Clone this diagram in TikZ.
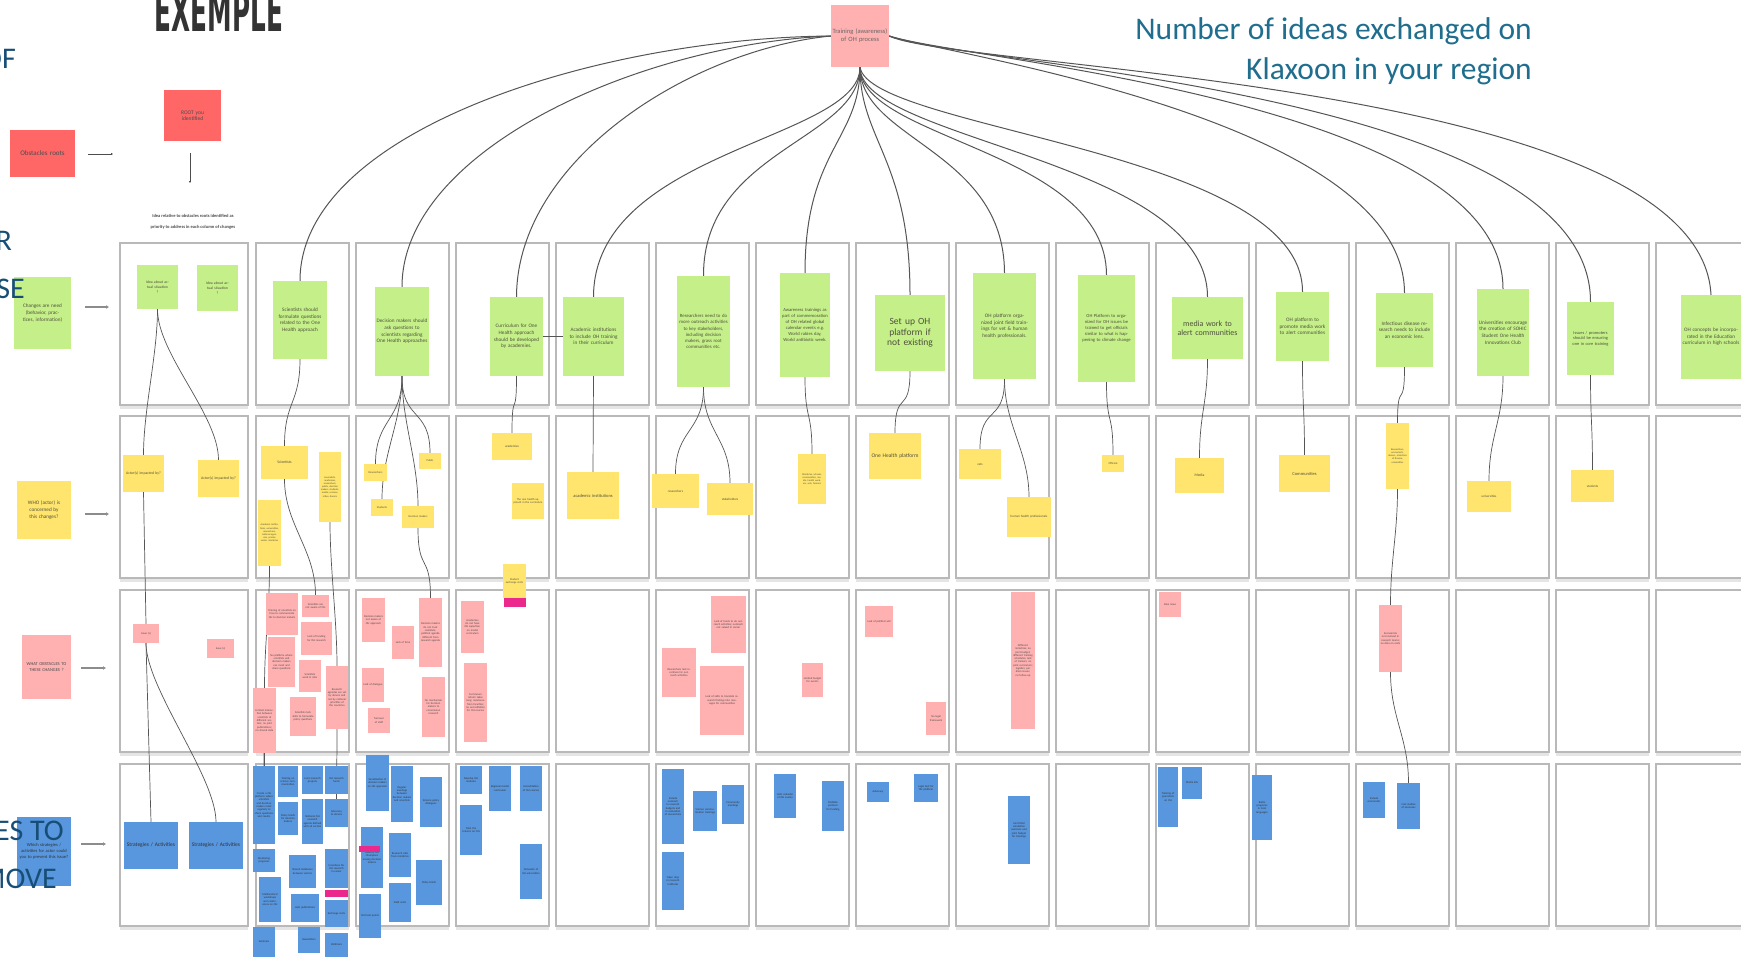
\documentclass[tikz,border=0pt]{standalone}
\usepackage{fontspec}
\setmainfont{Carlito}
\newfontfamily\headfont{DejaVu Sans}
\usetikzlibrary{arrows.meta}
\definecolor{gnote}{RGB}{196,239,137}
\definecolor{ynote}{RGB}{255,229,110}
\definecolor{pnote}{RGB}{255,176,176}
\definecolor{rnote}{RGB}{255,102,102}
\definecolor{bnote}{RGB}{88,150,222}
\definecolor{mtag}{RGB}{235,40,140}
\definecolor{hdblue}{RGB}{31,110,142}
\definecolor{navyt}{RGB}{24,78,118}
\definecolor{notetext}{RGB}{80,80,60}
\definecolor{framec}{RGB}{185,185,185}
\definecolor{linec}{RGB}{85,85,85}
\pgfdeclarelayer{frm}
\pgfdeclarelayer{bg}
\pgfsetlayers{frm,bg,main}
\newcommand{\stk}[7]{%
  \pgfmathsetmacro\stkx{(#3+#5)/2}%
  \pgfmathsetmacro\stky{(#4+#6)/2}%
  \pgfmathsetmacro\stkw{#5-#3}%
  \pgfmathsetmacro\stkh{#6-#4}%
  \pgfmathsetmacro\stkt{max(#5-#3-3,2)}%
  \node[#2, minimum width=\stkw pt, minimum height=\stkh pt, text width=\stkt pt] (#1) at (\stkx,\stky) {#7};%
}
\newcommand{\cc}[2]{\draw[cn] (#1.south) .. controls +(0,45) and +(0,-45) .. (#2.north);}
\tikzset{
 stk/.style={inner sep=1pt, align=center, text=notetext, font=\fontsize{5.2}{6.6}\selectfont},
 gn/.style={stk, fill=gnote},
 yn/.style={stk, fill=ynote},
 pn/.style={stk, fill=pnote, text=black!70, font=\fontsize{2.8}{3.3}\selectfont},
 bn/.style={stk, fill=bnote, text=black!80, font=\fontsize{2.8}{3.3}\selectfont},
 rn/.style={stk, fill=rnote, text=black!70},
 mt/.style={stk, fill=mtag},
 cn/.style={draw=linec, line width=0.7pt},
 tcn/.style={draw=linec, line width=1pt},
 frmline/.style={draw=framec, line width=1.2pt},
 larrow/.style={draw=black!45, line width=1.6pt, -{Latex[length=3pt,width=4pt]}},
 sarrow/.style={draw=black!70, line width=0.6pt, -{Latex[length=2pt,width=2.5pt]}},
 lefttxt/.style={text=navyt, font=\fontsize{30}{35}\selectfont, inner sep=0pt},
 toptxt/.style={text=hdblue, font=\fontsize{31.5}{35}\selectfont, inner sep=0pt},
}
\begin{document}
\begin{tikzpicture}[x=1pt,y=-1pt]
\useasboundingbox (0,0) rectangle (1741,962);
% ---------- frames
\begin{pgfonlayer}{frm}
\fill[white] (0,0) rectangle (1741,962);
\foreach \r in {243,416,590,764}{
 \pgfmathsetmacro\rb{\r+162}
 \fill[black!10] (120,\rb) rectangle (248,\rb+4);
 \draw[frmline] (120,\r) rectangle (248,\rb);
 \foreach \k in {1,...,15}{
  \pgfmathsetmacro\xa{256+(\k-1)*100}
  \pgfmathsetmacro\xb{\xa+93}
  \fill[black!10] (\xa,\rb) rectangle (\xb,\rb+4);
  \draw[frmline] (\xa,\r) rectangle (\xb,\rb);
 }
}
\end{pgfonlayer}
% ---------- headings
\node[anchor=south, inner sep=0pt, text=black!80] (ex) at (219,32) {\resizebox{128pt}{40pt}{\headfont\bfseries EXEMPLE}};
\node[toptxt, anchor=base east] (kt1) at (1532,39) {Number of ideas exchanged on};
\node[toptxt, anchor=base east] (kt2) at (1532,79) {Klaxoon in your region};
% ---------- legend
\stk{obst}{rn, font=\fontsize{7}{8}\selectfont}{10}{130}{75}{177}{Obstacles roots}
\stk{root}{rn, font=\fontsize{5.5}{6.5}\selectfont}{164}{90}{221}{141}{ROOT you\\identified}
\node[font=\fontsize{4.5}{11}\selectfont\bfseries, text=black!70, align=center] (hint) at (193,222) {Idea relative to obstacles roots identified as\\priority to address in each column of changes};
\coordinate (oa1) at (88,154); \coordinate (oa2) at (113,154);
\draw[sarrow] (oa1) -- (oa2);
\coordinate (ra1) at (190,153); \coordinate (ra2) at (190,183);
\draw[sarrow] (ra1) -- (ra2);
\stk{lg}{gn}{14}{277}{71}{349}{Changes are need (behavior, practices, information)}
\stk{ly}{yn}{17}{481}{71}{539}{WHO (actor) is concerned by this changes?}
\stk{lp}{pn, font=\fontsize{4.5}{6}\selectfont}{22}{635}{71}{699}{WHAT OBSTACLES TO THESE CHANGES ?}
\stk{lb}{bn, font=\fontsize{4.5}{6}\selectfont}{17}{817}{71}{886}{Which strategies / activities for actor could you to prevent this issue?}
\coordinate (la1) at (85,307); \coordinate (la2) at (109,307); \draw[larrow] (la1) -- (la2);
\coordinate (lb1) at (85,514); \coordinate (lb2) at (109,514); \draw[larrow] (lb1) -- (lb2);
\coordinate (lc1) at (81,668); \coordinate (lc2) at (106,668); \draw[larrow] (lc1) -- (lc2);
\coordinate (ld1) at (81,844); \coordinate (ld2) at (106,844); \draw[larrow] (ld1) -- (ld2);
% ---------- top node
\stk{top}{stk, fill=pnote, text=black!60, font=\fontsize{6.5}{8}\selectfont}{831}{5}{889}{67}{Training (awareness) of OH process}
% ---------- column 0
\stk{g0a}{gn, font=\fontsize{3.8}{4.8}\selectfont}{137}{265}{178}{309}{Idea about actual situation\\?}
\stk{g0b}{gn, font=\fontsize{3.8}{4.8}\selectfont}{197}{265}{238}{311}{Idea about actual situation\\?}
\stk{y0a}{yn, font=\fontsize{3.8}{4.8}\selectfont}{123}{455}{164}{492}{Actor(s) impacted by?}
\stk{y0b}{yn, font=\fontsize{3.8}{4.8}\selectfont}{198}{460}{239}{497}{Actor(s) impacted by?}
\stk{p0a}{pn}{133}{624}{159}{643}{Issue (s)}
\stk{p0b}{pn}{207}{639}{234}{658}{Issue (s)}
\stk{b0a}{bn, font=\fontsize{5.5}{6.5}\selectfont}{124}{822}{178}{869}{Strategies / Activities}
\stk{b0b}{bn, font=\fontsize{5.5}{6.5}\selectfont}{189}{822}{243}{869}{Strategies / Activities}
% ---------- column 1
\stk{g1}{gn}{273}{281}{327}{359}{Scientists should formulate questions related to the One Health approach}
\stk{y1a}{yn, font=\fontsize{3.8}{4.4}\selectfont}{261}{446}{308}{479}{Scientists}
\stk{y1b}{yn, font=\fontsize{2.5}{3.1}\selectfont}{319}{452}{341}{522}{Journalists, academies, researchers, public, decision makers, students, media, communities, donors}
\stk{y1c}{yn, font=\fontsize{2.5}{3.1}\selectfont}{258}{500}{281}{566}{Academic institutions, universities, researchers, national agencies, private sector, ministries}
\stk{p1a}{pn}{266}{593}{298}{635}{Training of scientists on how to communicate OH to decision makers}
\stk{p1b}{pn}{302}{595}{329}{617}{Scientists are not aware of OH}
\stk{p1c}{pn}{268}{637}{295}{687}{No platform where scientists and decision makers can meet and share questions}
\stk{p1d}{pn}{301}{622}{332}{655}{Lack of funding for OH research}
\stk{p1e}{pn}{299}{660}{321}{692}{Scientists work in silos}
\stk{p1f}{pn}{326}{666}{348}{729}{Research agendas are set by donors and not by national priorities of the countries}
\stk{p1g}{pn}{253}{688}{276}{753}{Limited interaction between scientists of different sectors; no joint publications; no shared data}
\stk{p1h}{pn}{290}{697}{316}{736}{Scientists lack skills to formulate policy questions}
\stk{b1a}{bn}{253}{766}{275}{844}{Create a OH platform where scientists and decision makers meet regularly to share questions and results}
\stk{b1b}{bn}{278}{766}{298}{797}{Training on science communication}
\stk{b1c}{bn}{302}{766}{323}{794}{Joint research projects}
\stk{b1d}{bn}{325}{766}{348}{794}{OH research funds}
\stk{b1e}{bn}{278}{802}{298}{835}{Policy briefs for decision makers}
\stk{b1f}{bn}{302}{799}{323}{844}{National OH research agenda defined with all sectors}
\stk{b1g}{bn}{325}{799}{348}{827}{Advocacy to donors}
\stk{b1h}{bn}{253}{849}{275}{872}{Mentoring programs}
\stk{b1i}{bn}{259}{877}{281}{922}{Multisectoral workshops and conferences on OH}
\stk{b1j}{bn}{289}{855}{316}{888}{Shared databases between sectors}
\stk{b1k}{bn}{291}{894}{319}{922}{Joint publications}
\stk{b1l}{bn}{325}{849}{348}{888}{Incentives for OH research in career}
\stk{m1}{mt}{325}{890}{348}{897}{}
\stk{b1m}{bn}{325}{900}{348}{927}{Exchange visits}
\stk{b1n}{bn}{253}{927}{275}{957}{Seminars}
\stk{b1o}{bn}{298}{927}{320}{953}{Newsletters}
\stk{b1p}{bn}{325}{933}{348}{957}{Webinars}
% ---------- column 2
\stk{g2}{gn}{375}{287}{429}{376}{Decision makers should ask questions to scientists regarding One Health approaches}
\stk{y2a}{yn, font=\fontsize{2.8}{3.2}\selectfont}{364}{464}{387}{481}{Researchers}
\stk{y2b}{yn, font=\fontsize{2.8}{3.2}\selectfont}{371}{499}{393}{516}{Students}
\stk{y2c}{yn, font=\fontsize{2.8}{3.2}\selectfont}{419}{453}{441}{469}{Public}
\stk{y2d}{yn, font=\fontsize{2.8}{3.2}\selectfont}{402}{506}{434}{528}{Decision makers}
\stk{p2a}{pn}{362}{598}{385}{642}{Decision makers not aware of OH approach}
\stk{p2b}{pn}{392}{626}{414}{659}{Lack of time}
\stk{p2c}{pn}{419}{598}{442}{667}{Decision makers do not trust scientists; political agenda different from research agenda}
\stk{p2d}{pn}{362}{668}{384}{702}{Lack of dialogue}
\stk{p2e}{pn}{368}{708}{390}{733}{Turnover of staff}
\stk{p2f}{pn}{422}{677}{445}{737}{No mechanism for decision makers to commission research}
\stk{b2a}{bn}{366}{755}{389}{811}{Sensitization of decision makers on OH approach}
\stk{b2b}{bn}{391}{766}{413}{822}{Regular meetings between decision makers and scientists}
\stk{b2c}{bn}{420}{777}{442}{827}{Science policy dialogues}
\stk{b2d}{bn}{361}{827}{383}{888}{Identify OH champions among decision makers}
\stk{m2}{mt}{359}{846}{380}{852}{}
\stk{b2e}{bn}{389}{833}{411}{877}{Research calls from ministries}
\stk{b2f}{bn}{416}{860}{442}{905}{Policy briefs}
\stk{b2g}{bn}{359}{894}{381}{938}{OH focal points}
\stk{b2h}{bn}{389}{883}{411}{922}{Field visits}
% ---------- column 3
\stk{g3}{gn}{490}{297}{543}{376}{Curriculum for One Health approach should be developed by academies.}
\stk{y3a}{yn, font=\fontsize{3.2}{3.8}\selectfont}{492}{433}{532}{460}{academies}
\stk{y3b}{yn, font=\fontsize{2.8}{3.2}\selectfont}{512}{483}{544}{519}{The one health approach in the curriculum}
\stk{y3c}{yn, font=\fontsize{2.8}{3.2}\selectfont}{503}{564}{526}{598}{Student exchange visits}
\stk{m3}{mt}{504}{598}{526}{607}{}
\stk{p3a}{pn}{461}{601}{484}{653}{Academies do not have OH expertise; no model curriculum}
\stk{p3b}{pn}{464}{663}{487}{742}{Curriculum reform takes long; resistance from faculties; no accreditation for OH courses}
\stk{b3a}{bn}{460}{766}{482}{794}{Develop OH modules}
\stk{b3b}{bn}{460}{805}{482}{855}{Train the trainers on OH}
\stk{b3c}{bn}{489}{766}{511}{811}{Regional model curriculum}
\stk{b3d}{bn}{520}{766}{542}{811}{Accreditation of OH courses}
\stk{b3e}{bn}{520}{844}{542}{899}{Networks of OH universities}
% ---------- column 4
\stk{g4}{gn}{563}{297}{624}{376}{Academic institutions to include OH training in their curriculum}
\stk{y4}{yn, font=\fontsize{4.5}{5.5}\selectfont}{567}{472}{619}{519}{academic institutions}
% ---------- column 5
\stk{g5}{gn, font=\fontsize{4.8}{6.2}\selectfont}{677}{276}{730}{387}{Researchers need to do more outreach activities to key stakeholders, including decision makers, grass root communities etc.}
\stk{y5a}{yn, font=\fontsize{3.2}{3.8}\selectfont}{652}{474}{699}{508}{researchers}
\stk{y5b}{yn, font=\fontsize{3.2}{3.8}\selectfont}{707}{483}{753}{515}{stakeholders}
\stk{p5a}{pn}{662}{648}{696}{697}{Researchers lack incentives for outreach activities}
\stk{p5b}{pn}{711}{596}{746}{653}{Lack of funds to do outreach activities; outreach not valued in career}
\stk{p5c}{pn}{700}{666}{744}{735}{Lack of skills to translate research findings into messages for communities}
\stk{b5a}{bn}{662}{769}{684}{844}{Include outreach in research budgets and in evaluation of researchers}
\stk{b5b}{bn}{693}{791}{717}{831}{Science communication trainings}
\stk{b5c}{bn}{722}{785}{744}{824}{Community meetings}
\stk{b5d}{bn}{662}{852}{684}{910}{Open days in research institutes}
% ---------- column 6
\stk{g6}{gn, font=\fontsize{4.6}{6}\selectfont}{780}{273}{830}{377}{Awareness trainings as part of commemoration of OH related global calendar events e.g. World rabies day, World antibiotic week.}
\stk{y6}{yn, font=\fontsize{2.5}{3.1}\selectfont}{798}{454}{826}{504}{Ministries, schools, communities, media, health workers, vets, farmers}
\stk{p6}{pn}{802}{663}{823}{697}{Limited budget for events}
\stk{b6a}{bn}{774}{774}{796}{818}{Joint calendar of OH events}
\stk{b6b}{bn}{822}{781}{844}{831}{Mobilize partners for funding}
% ---------- column 7
\stk{g7}{gn, font=\fontsize{9.5}{10.5}\selectfont}{875}{295}{945}{371}{Set up OH platform if not existing}
\stk{y7}{yn, font=\fontsize{5.5}{6.5}\selectfont}{869}{433}{921}{479}{One Health platform}
\stk{p7a}{pn}{865}{606}{893}{637}{Lack of political will}
\stk{p7b}{pn}{926}{702}{946}{735}{No legal framework}
\stk{b7a}{bn}{867}{782}{889}{802}{Advocacy}
\stk{b7b}{bn}{914}{774}{938}{802}{Legal text for OH platform}
% ---------- column 8
\stk{g8}{gn}{973}{273}{1036}{379}{OH platform organized joint field trainings for vet \& human health professionals.}
\stk{y8a}{yn, font=\fontsize{3.2}{3.8}\selectfont}{959}{449}{1001}{479}{vets}
\stk{y8b}{yn, font=\fontsize{3.2}{3.8}\selectfont}{1007}{497}{1051}{537}{human health professionals}
\stk{p8}{pn}{1011}{592}{1035}{729}{Different ministries; no joint budget; different training schedules; lack of trainers; no joint curriculum; logistics; per diem issues; no follow up}
\stk{b8}{bn}{1008}{796}{1030}{864}{Joint field simulation exercises and joint budget for trainings}
% ---------- column 9
\stk{g9}{gn, font=\fontsize{4.6}{6}\selectfont}{1078}{275}{1135}{382}{OH Platform to organized for OH issues be trained to get officials similar to what is happening to climate change}
\stk{y9}{yn, font=\fontsize{2.8}{3.2}\selectfont}{1102}{455}{1124}{472}{Officials}
% ---------- column 10
\stk{g10}{gn, font=\fontsize{8}{9}\selectfont}{1172}{297}{1243}{359}{media work to alert communities}
\stk{y10}{yn, font=\fontsize{3.8}{4.4}\selectfont}{1175}{458}{1224}{493}{Media}
\stk{p10}{pn}{1159}{592}{1181}{617}{Fake news}
\stk{b10a}{bn}{1158}{767}{1178}{827}{Training of journalists on OH}
\stk{b10b}{bn}{1182}{767}{1202}{799}{Media kits}
% ---------- column 11
\stk{g11}{gn}{1276}{292}{1329}{361}{OH platform to promote media work to alert communities}
\stk{y11}{yn, font=\fontsize{4.5}{5.5}\selectfont}{1279}{455}{1330}{492}{Communities}
\stk{b11}{bn}{1252}{775}{1272}{840}{Radio programs in local languages}
% ---------- column 12
\stk{g12}{gn}{1376}{293}{1433}{367}{Infectious disease research needs to include an economic lens.}
\stk{y12}{yn, font=\fontsize{2.5}{3.1}\selectfont}{1386}{423}{1409}{489}{Researchers, economists, donors, ministries of finance, universities}
\stk{p12}{pn}{1379}{605}{1402}{672}{Economists not involved in research teams; no data on costs}
\stk{b12a}{bn}{1363}{782}{1385}{818}{Include economists}
\stk{b12b}{bn}{1397}{783}{1420}{829}{Cost studies of zoonoses}
% ---------- column 13
\stk{g13}{gn}{1477}{289}{1529}{376}{Universities encourage the creation of SOHIC Student One Health Innovations Club}
\stk{y13}{yn, font=\fontsize{3.2}{3.8}\selectfont}{1467}{481}{1511}{512}{universities}
% ---------- column 14
\stk{g14}{gn, font=\fontsize{4.4}{5.6}\selectfont}{1567}{302}{1614}{375}{Issues / promoters should be ensuring one in core training}
\stk{y14}{yn, font=\fontsize{3.2}{3.8}\selectfont}{1571}{470}{1614}{502}{students}
% ---------- column 15
\stk{g15}{gn}{1681}{295}{1741}{379}{OH concepts be incorporated in the Education curriculum in high schools}
% ---------- left cut texts
\node[lefttxt, anchor=base east] (tof) at (16,68) {OF};
\node[lefttxt, anchor=base east] (tr) at (12,250) {R};
\node[lefttxt, anchor=base east] (tse) at (25,298) {SE};
\node[lefttxt, anchor=base east] (testo) at (64,840) {ES TO};
\node[lefttxt, anchor=base east] (tiove) at (57,888) {MOVE};
% ---------- connectors
\begin{pgfonlayer}{bg}
\draw[tcn] (top.west) .. controls (600,38) and (300,130) .. (g1.north);
\draw[tcn] (top.west) .. controls (640,44) and (402,150) .. (g2.north);
\draw[tcn] (top.west) .. controls (690,50) and (517,160) .. (g3.north);
\draw[tcn] (top.south) .. controls (860,140) and (594,150) .. (g4.north);
\draw[tcn] (top.south) .. controls (860,140) and (703,150) .. (g5.north);
\draw[tcn] (top.south) .. controls (860,140) and (805,150) .. (g6.north);
\draw[tcn] (top.south) .. controls (860,140) and (910,160) .. (g7.north);
\draw[tcn] (top.south) .. controls (860,140) and (1004,150) .. (g8.north);
\draw[tcn] (top.south) .. controls (860,140) and (1106,150) .. (g9.north);
\draw[tcn] (top.south) .. controls (860,140) and (1207,160) .. (g10.north);
\draw[tcn] (top.south) .. controls (870,130) and (1303,150) .. (g11.north);
\draw[tcn] (top.east) .. controls (950,55) and (1404,120) .. (g12.north);
\draw[tcn] (top.east) .. controls (960,60) and (1503,100) .. (g13.north);
\draw[tcn] (top.east) .. controls (960,65) and (1591,90) .. (g14.north);
\draw[tcn] (top.east) .. controls (960,70) and (1700,80) .. (g15.north);
% column 0
\cc{g0a}{y0a} \cc{g0a}{y0b}
\draw[cn] (y0a.south) -- (p0a.north);
\draw[cn] (p0a.south) -- (b0a.north);
\cc{p0a}{b0b}
% column 1
\cc{g1}{y1a} \cc{y1a}{p1b} \cc{y1b}{p1f} \cc{y1c}{p1g}
\cc{p1f}{b1g} \cc{p1g}{b1a}
% column 2
\cc{g2}{y2a} \cc{g2}{y2b} \cc{g2}{y2c} \cc{g2}{y2d} \cc{y2d}{p2c}
% column 3-4
\cc{g3}{y3a}
\draw[cn] (g3.east) -- (g4.west);
\draw[cn] (g4.south) -- (y4.north);
% others
\cc{g5}{y5a} \cc{g5}{y5b}
\cc{g6}{y6}
\cc{g7}{y7}
\cc{g8}{y8a} \cc{g8}{y8b}
\cc{g9}{y9}
\cc{g10}{y10}
\cc{g11}{y11}
\cc{g12}{y12} \cc{y12}{p12} \cc{p12}{b12b}
\cc{g13}{y13}
\cc{g14}{y14}
\end{pgfonlayer}
\end{tikzpicture}
\end{document}
